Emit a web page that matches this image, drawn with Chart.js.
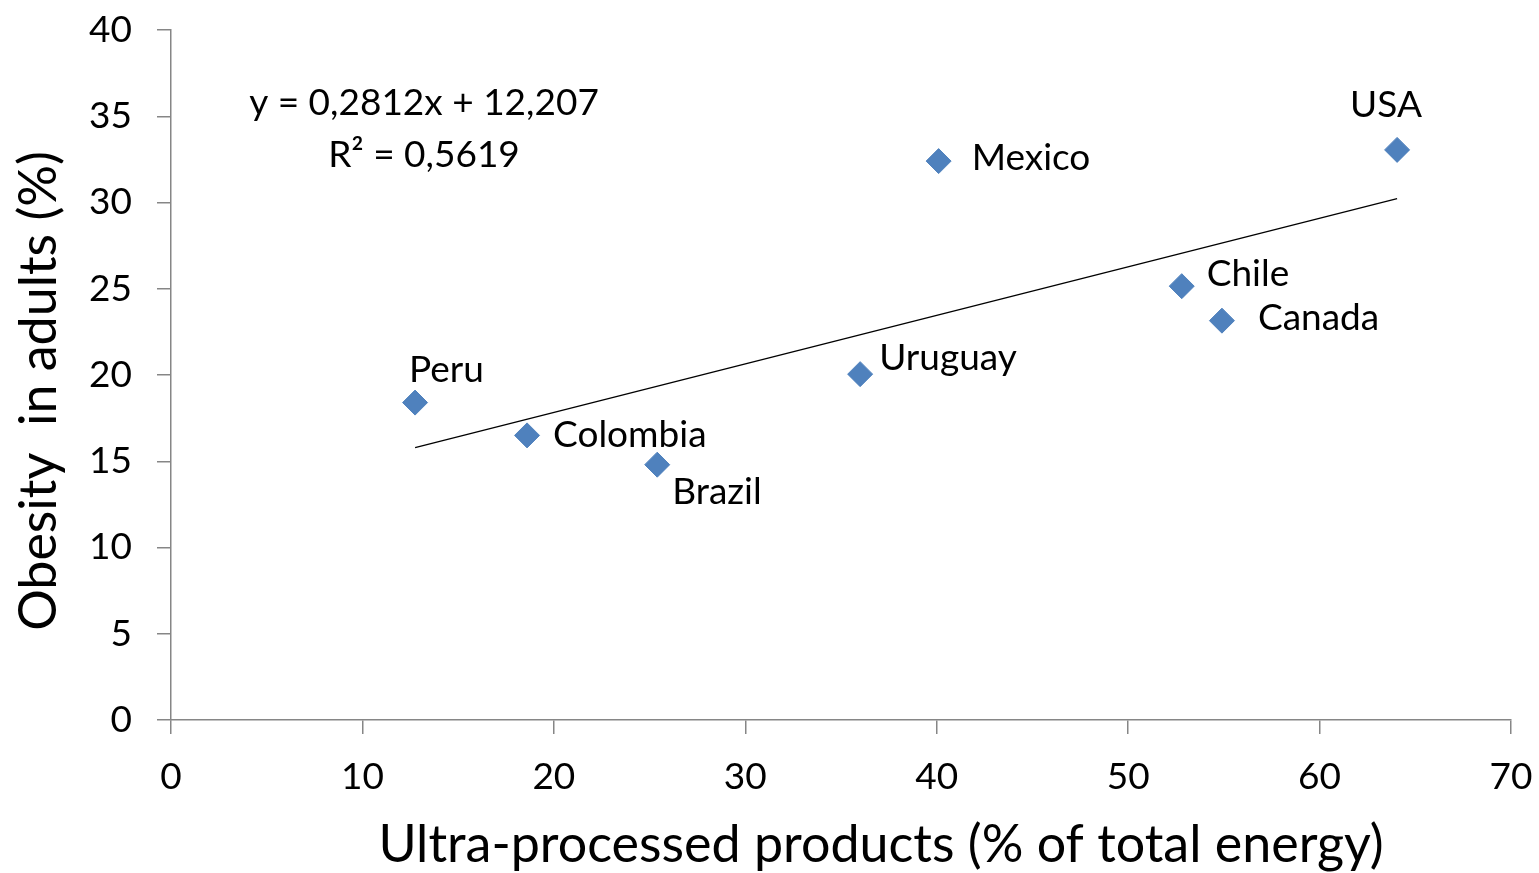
<!DOCTYPE html>
<html>
<head>
<meta charset="utf-8">
<script src="https://cdn.jsdelivr.net/npm/chart.js@4.4.1/dist/chart.umd.min.js"></script>
<style>
  html, body { margin: 0; padding: 0; background: #fff; }
  #wrap { width: 1539px; height: 873px; }
</style>
</head>
<body>
<div id="wrap"><canvas id="chart" width="1539" height="873"></canvas></div>
<script>
'use strict';

// data
const countries = ['Peru', 'Colombia', 'Brazil', 'Uruguay', 'Mexico', 'Chile', 'Canada', 'USA'];
const ultraProcessed = [12.75, 18.6, 25.4, 36.0, 40.1, 52.8, 54.9, 64.05];
const obesity = [18.4, 16.5, 14.8, 20.05, 32.4, 25.15, 23.15, 33.05];

// trend line ends (linear fit as printed on the chart)
const trendX = [12.75, 64.05];
const trendY = [15.79, 30.22];
const equationLines = ['y = 0,2812x + 12,207', 'R\u00B2 = 0,5619'];

const xTicks = [0, 10, 20, 30, 40, 50, 60, 70];
const yTicks = [0, 5, 10, 15, 20, 25, 30, 35, 40];

const xTitle = 'Ultra-processed products (% of total energy)';
const yTitle = 'Obesity  in adults (%)';

// label placement next to each point: [dx, dy]
const labelPlace = {
  Peru: [-6, -21],
  Colombia: [26, 12],
  Brazil: [15, 39],
  Uruguay: [19, -4],
  Mexico: [33, 9],
  Chile: [25, 0],
  Canada: [36, 9],
  USA: [-47, -33]
};

const FONT = 'Lato, "Open Sans", sans-serif';
const axisGrey = '#868686';

const points = [];
for (let i = 0; i < countries.length; i++) {
  points.push({x: ultraProcessed[i], y: obesity[i]});
}
const trend = [];
for (let i = 0; i < trendX.length; i++) {
  trend.push({x: trendX[i], y: trendY[i]});
}

const textPlugin = {
  id: 'textPlugin',
  afterDraw(chart) {
    const ctx = chart.ctx;
    const meta = chart.getDatasetMeta(1);
    ctx.save();
    ctx.fillStyle = '#000';
    ctx.textBaseline = 'alphabetic';
    ctx.textAlign = 'left';
    ctx.font = '37px ' + FONT;
    meta.data.forEach(function (pt, i) {
      const p = labelPlace[countries[i]];
      ctx.fillText(countries[i], pt.x + p[0], pt.y + p[1]);
    });

    // equation box
    ctx.textAlign = 'center';
    ctx.fillText(equationLines[0], 424, 115);
    ctx.fillText(equationLines[1], 424, 167);

    // axis titles
    ctx.font = '52px ' + FONT;
    ctx.fillText(xTitle, 881, 862);
    ctx.translate(56, 391);
    ctx.rotate(-Math.PI / 2);
    ctx.fillText(yTitle, 0, 0);
    ctx.restore();
  }
};

const ctx = document.getElementById('chart').getContext('2d');
const chart = new Chart(ctx, {
  type: 'scatter',
  data: {
    datasets: [
      {
        label: 'Linear fit',
        type: 'line',
        data: trend,
        borderColor: '#000',
        borderWidth: 1.3,
        pointRadius: 0,
        fill: false
      },
      {
        label: 'Countries',
        data: points,
        pointStyle: 'rectRot',
        pointRadius: 12.5,
        pointHoverRadius: 12.5,
        backgroundColor: '#4F81BD',
        borderColor: '#4F81BD',
        borderWidth: 1
      }
    ]
  },
  options: {
    responsive: false,
    animation: false,
    layout: { padding: { top: 30, right: 28, left: 0, bottom: 0 } },
    plugins: {
      legend: { display: false },
      tooltip: { enabled: false }
    },
    scales: {
      x: {
        type: 'linear',
        min: 0,
        max: 70,
        afterBuildTicks(scale) {
          scale.ticks = xTicks.map(v => ({value: v}));
        },
        afterFit(scale) {
          scale.height = 153;
          scale.paddingLeft = 0;
          scale.paddingRight = 0;
        },
        border: { display: true, color: axisGrey, width: 1.5 },
        grid: { display: true, drawOnChartArea: false, drawTicks: true, tickLength: 14, color: axisGrey, lineWidth: 1.5 },
        ticks: { color: '#000', font: { family: FONT, size: 37 }, padding: 21, maxRotation: 0 }
      },
      y: {
        type: 'linear',
        min: 0,
        max: 40,
        afterBuildTicks(scale) {
          scale.ticks = yTicks.map(v => ({value: v}));
        },
        afterFit(scale) {
          scale.width = 171;
          scale.paddingTop = 0;
          scale.paddingBottom = 0;
        },
        border: { display: true, color: axisGrey, width: 1.5 },
        grid: { display: true, drawOnChartArea: false, drawTicks: true, tickLength: 14, color: axisGrey, lineWidth: 1.5 },
        ticks: { color: '#000', font: { family: FONT, size: 37 }, padding: 25 }
      }
    }
  },
  plugins: [textPlugin]
});
</script>
</body>
</html>
